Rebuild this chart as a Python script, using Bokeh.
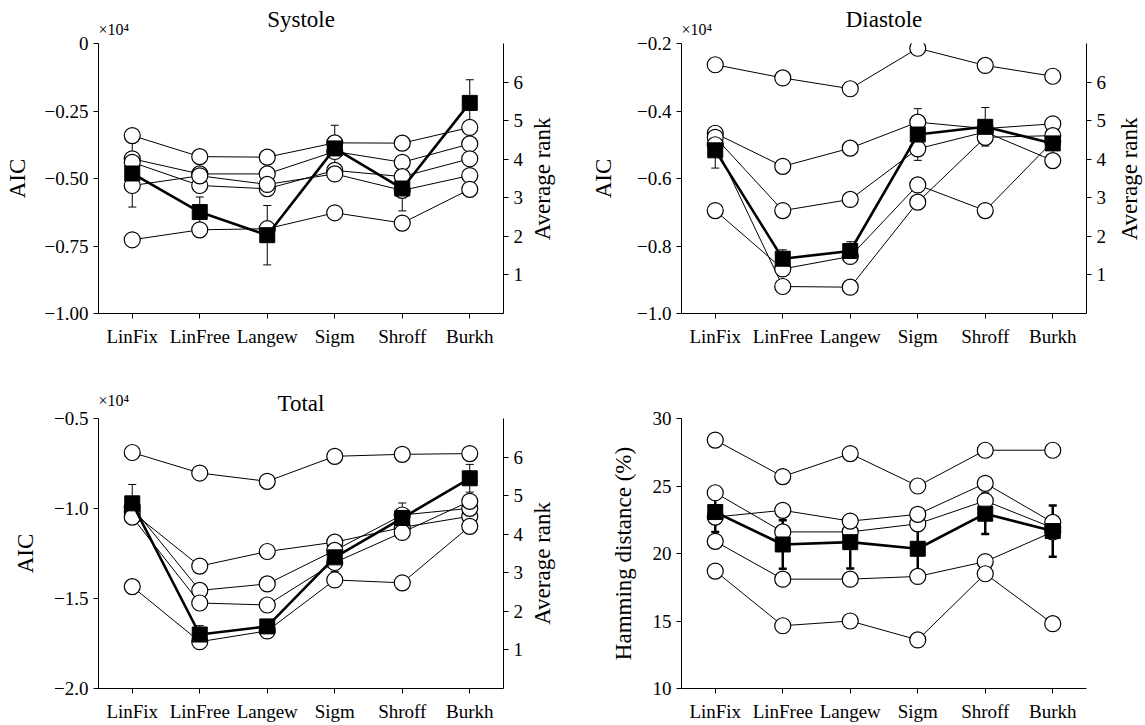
import math
from bokeh.plotting import figure
from bokeh.models import (FactorRange, Range1d, LinearAxis, FixedTicker, CustomJSTickFormatter,
                          ColumnDataSource, Whisker, TeeHead, Label, Title)
from bokeh.layouts import column, row
from bokeh.embed import file_html
from bokeh.resources import INLINE

# ---------------- data ----------------
models = ["LinFix", "LinFree", "Langew", "Sigm", "Shroff", "Burkh"]

# Systole AIC (x10^4), five subjects
systole_aic = [
    [-0.341, -0.419, -0.421, -0.368, -0.369, -0.311],
    [-0.427, -0.483, -0.483, -0.400, -0.440, -0.372],
    [-0.440, -0.526, -0.538, -0.470, -0.493, -0.427],
    [-0.526, -0.490, -0.522, -0.483, -0.544, -0.489],
    [-0.727, -0.690, -0.686, -0.627, -0.665, -0.540],
]
systole_rank = [3.63, 2.63, 2.03, 4.28, 3.24, 5.46]
systole_rank_err = [0.87, 0.39, 0.77, 0.60, 0.58, 0.60]

# Diastole AIC (x10^4)
diastole_aic = [
    [-0.263, -0.302, -0.334, -0.214, -0.265, -0.297],
    [-0.466, -0.564, -0.510, -0.433, -0.452, -0.438],
    [-0.478, -0.695, -0.662, -0.512, -0.462, -0.547],
    [-0.695, -0.868, -0.831, -0.619, -0.695, -0.490],
    [-0.500, -0.920, -0.922, -0.670, -0.478, -0.473],
]
diastole_rank = [4.23, 1.42, 1.62, 4.64, 4.84, 4.41]
diastole_rank_err = [0.46, 0.23, 0.24, 0.67, 0.50, 0.52]

# Total AIC (x10^4)
total_aic = [
    [-0.689, -0.803, -0.849, -0.710, -0.699, -0.695],
    [-1.020, -1.320, -1.239, -1.187, -1.105, -1.043],
    [-0.992, -1.455, -1.419, -1.233, -1.036, -0.999],
    [-1.048, -1.525, -1.536, -1.300, -1.133, -0.960],
    [-1.434, -1.740, -1.680, -1.397, -1.413, -1.099],
]
total_rank = [4.80, 1.40, 1.61, 3.40, 4.42, 5.45]
total_rank_err = [0.49, 0.23, 0.13, 0.37, 0.39, 0.36]

# Hamming distance (%)
hamming_pct = [
    [28.4, 25.7, 27.4, 25.0, 27.65, 27.65],
    [24.5, 21.6, 21.6, 22.2, 23.9, 21.9],
    [22.7, 23.2, 22.4, 22.9, 25.2, 22.3],
    [20.9, 18.1, 18.1, 18.3, 19.4, 21.6],
    [18.7, 14.65, 15.0, 13.6, 18.5, 14.8],
]
hamming_mean = [23.07, 20.67, 20.84, 20.35, 22.95, 21.66]
hamming_err = [1.48, 1.80, 1.95, 1.85, 1.50, 1.90]

rank_ticks = [1, 2, 3, 4, 5, 6]

# ---------------- styling helpers ----------------
FONT = "Liberation Serif"
TICK_FS = "19px"
LABEL_FS = "23px"


def style_axis(ax, label_standoff, tick_standoff=5):
    ax.axis_line_color = "black"
    ax.axis_line_width = 1
    ax.major_tick_line_color = "black"
    ax.major_tick_in = 0
    ax.major_tick_out = 5
    ax.minor_tick_line_color = None
    ax.major_label_text_font = FONT
    ax.major_label_text_font_size = TICK_FS
    ax.major_label_text_color = "black"
    ax.major_label_standoff = tick_standoff
    ax.axis_label_text_font = FONT
    ax.axis_label_text_font_size = LABEL_FS
    ax.axis_label_text_font_style = "normal"
    ax.axis_label_text_color = "black"
    ax.axis_label_standoff = label_standoff


def make_panel(width, height, borders, y0, y1, yticks, digits, ylabel, ylabel_standoff):
    left, right, top, bottom = borders
    p = figure(width=width, height=height, x_range=FactorRange(*models),
               y_range=Range1d(y0, y1), output_backend="svg", toolbar_location=None,
               min_border_left=left, min_border_right=right,
               min_border_top=top, min_border_bottom=bottom)
    p.xgrid.visible = False
    p.ygrid.visible = False
    p.outline_line_color = None
    p.background_fill_color = "white"
    p.border_fill_color = "white"
    xa = p.xaxis[0]
    style_axis(xa, 5, tick_standoff=7)
    ya = p.yaxis[0]
    ya.ticker = FixedTicker(ticks=yticks)
    ya.formatter = CustomJSTickFormatter(args=dict(d=digits), code="""
        if (Math.abs(tick) < 1e-9) { return "0"; }
        return (tick < 0 ? "\u2212" : "") + Math.abs(tick).toFixed(d);
    """)
    ya.axis_label = ylabel
    style_axis(ya, ylabel_standoff)
    return p


def add_rank_axis(p):
    p.extra_y_ranges = {"rank": Range1d(0, 7)}
    ax = LinearAxis(y_range_name="rank", ticker=FixedTicker(ticks=rank_ticks))
    style_axis(ax, 5)
    p.add_layout(ax, "right")


def side_label(width, height, text, cx, cy):
    """Narrow strip holding a right-hand axis title that reads bottom-to-top."""
    f = figure(width=width, height=height, x_range=Range1d(0, width),
               y_range=Range1d(0, height), output_backend="svg", toolbar_location=None,
               min_border=0, x_axis_location=None, y_axis_location=None)
    f.grid.visible = False
    f.outline_line_color = None
    f.background_fill_color = "white"
    f.border_fill_color = "white"
    f.add_layout(Label(x=cx, y=cy, text=text, angle=math.pi / 2,
                       text_align="center", text_baseline="middle",
                       text_font=FONT, text_font_size=LABEL_FS, text_color="black"))
    return f


def add_series(p, circles, mean, err, range_name, err_width):
    for s in circles:
        p.line(models, s, line_color="black", line_width=1)
    for s in circles:
        p.scatter(models, s, marker="circle", size=16, fill_color="white",
                  line_color="black", line_width=1.2)
    kw = {} if range_name is None else {"y_range_name": range_name}
    p.line(models, mean, line_color="black", line_width=2.6, **kw)
    p.scatter(models, mean, marker="square", size=15, fill_color="black",
              line_color="black", line_width=1, **kw)
    src = ColumnDataSource(data=dict(
        x=models,
        upper=[m + e for m, e in zip(mean, err)],
        lower=[m - e for m, e in zip(mean, err)],
    ))
    w = Whisker(source=src, base="x", upper="upper", lower="lower",
                line_color="black", line_width=err_width,
                upper_head=TeeHead(size=8, line_width=err_width, line_color="black"),
                lower_head=TeeHead(size=8, line_width=err_width, line_color="black"),
                **kw)
    p.add_layout(w)


def add_titles(p, text, exp_standoff, title_standoff):
    p.add_layout(Title(text="\u00d710\u2074", align="left", text_font=FONT,
                       text_font_size="16px", text_font_style="normal",
                       text_color="black", standoff=exp_standoff), "above")
    p.title.text = text
    p.title.align = "center"
    p.title.text_font = FONT
    p.title.text_font_size = "23px"
    p.title.text_font_style = "normal"
    p.title.text_color = "black"
    p.title.standoff = title_standoff


H1, H2 = 355, 369

# Systole
p1 = make_panel(528, H1, (98, 25, 43, 42), -1.0, 0.0, [-1.0, -0.75, -0.5, -0.25, 0.0], 2, "AIC", 12)
add_rank_axis(p1)
add_series(p1, systole_aic, systole_rank, systole_rank_err, "rank", 1)
add_titles(p1, "Systole", 12, -38)
s1 = side_label(44, H1, "Average rank", 14, H1 - 178)

# Diastole
p2 = make_panel(539, H1, (109, 25, 43, 42), -1.0, -0.2, [-1.0, -0.8, -0.6, -0.4, -0.2], 1, "AIC", 18)
add_rank_axis(p2)
add_series(p2, diastole_aic, diastole_rank, diastole_rank_err, "rank", 1)
add_titles(p2, "Diastole", 12, -38)
s2 = side_label(33, H1, "Average rank", 18, H1 - 178)

# Total
p3 = make_panel(528, H2, (98, 25, 63, 36), -2.0, -0.5, [-2.0, -1.5, -1.0, -0.5], 1, "AIC", 13)
add_rank_axis(p3)
add_series(p3, total_aic, total_rank, total_rank_err, "rank", 1)
add_titles(p3, "Total", 20, -72)
s3 = side_label(44, H2, "Average rank", 14, H2 - 198)

# Hamming distance
p4 = make_panel(572, H2, (109, 58, 63, 36), 10, 30, [10, 15, 20, 25, 30], 0,
                "Hamming distance (%)", 14)
add_series(p4, hamming_pct, hamming_mean, hamming_err, None, 2.5)

layout = column(row(p1, s1, p2, s2), row(p3, s3, p4))

with open("out.html", "w", encoding="utf-8") as f:
    f.write(file_html(layout, INLINE))
